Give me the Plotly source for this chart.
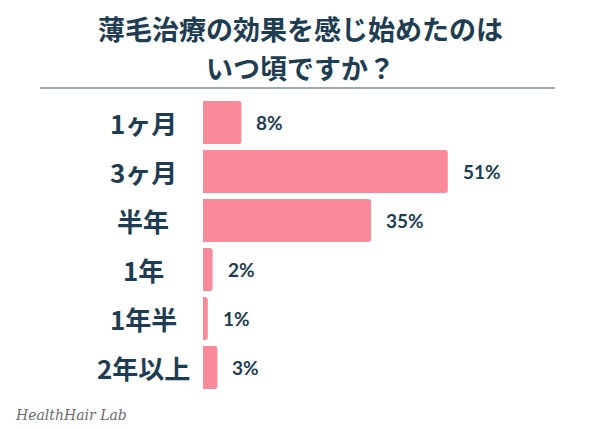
import plotly.graph_objects as go

# data
categories = ["1ヶ月", "3ヶ月", "半年", "1年", "1年半", "2年以上"]
percentages = [8, 51, 35, 2, 1, 3]
value_labels = ["8%", "51%", "35%", "2%", "1%", "3%"]
title_lines = ["薄毛治療の効果を感じ始めたのは", "いつ頃ですか？"]

NAVY = "#1E3D52"
PINK = "#FA8A9A"
FONT = "Noto Sans CJK JP"

fig = go.Figure(go.Bar(
    x=percentages,
    y=categories,
    orientation="h",
    marker=dict(color=PINK, cornerradius=3, line=dict(width=0)),
    hoverinfo="skip",
))

# category names, centred in the left column
for cat in categories:
    fig.add_annotation(
        xref="paper", x=-60 / 288, y=cat, text=cat, showarrow=False,
        xanchor="center",
        font=dict(family=FONT, size=26, color=NAVY, weight=700),
    )

# value labels to the right of each bar
for cat, val, lab in zip(categories, percentages, value_labels):
    fig.add_annotation(
        x=val, y=cat, text=lab, showarrow=False,
        xanchor="left", xshift=13,
        font=dict(family="Lato", size=19, color=NAVY, weight=700),
    )

# two-line title, placed as annotations for exact spacing
for line, ypos in zip(title_lines, [1.235, 1.104]):
    fig.add_annotation(
        xref="paper", yref="paper", x=97 / 288, y=ypos,
        xanchor="center", yanchor="middle", showarrow=False, text=line,
        font=dict(family=FONT, size=27, color=NAVY, weight=700),
    )

# title rule
fig.add_shape(type="line", xref="paper", yref="paper",
              x0=-163 / 288, x1=352 / 288, y0=1.034, y1=1.034,
              line=dict(color="#7D8B9A", width=1.5))

fig.add_annotation(
    xref="paper", yref="paper", x=-190 / 288, y=-0.045,
    xanchor="left", yanchor="top", showarrow=False,
    text="<i>HealthHair Lab</i>",
    font=dict(family="DejaVu Serif", size=14, color="#6B6B6B"),
)

fig.update_layout(
    width=600, height=429,
    margin=dict(l=203, r=109, t=98, b=37),
    paper_bgcolor="white", plot_bgcolor="white",
    bargap=0.12,
    showlegend=False,
)
fig.update_xaxes(range=[0, 60], visible=False)
fig.update_yaxes(
    autorange="reversed", showgrid=False, zeroline=False, showline=False,
    showticklabels=False, ticks="",
)

fig.write_html("out.html", config={"displayModeBar": False},
               post_script="document.body.style.margin='0';")
